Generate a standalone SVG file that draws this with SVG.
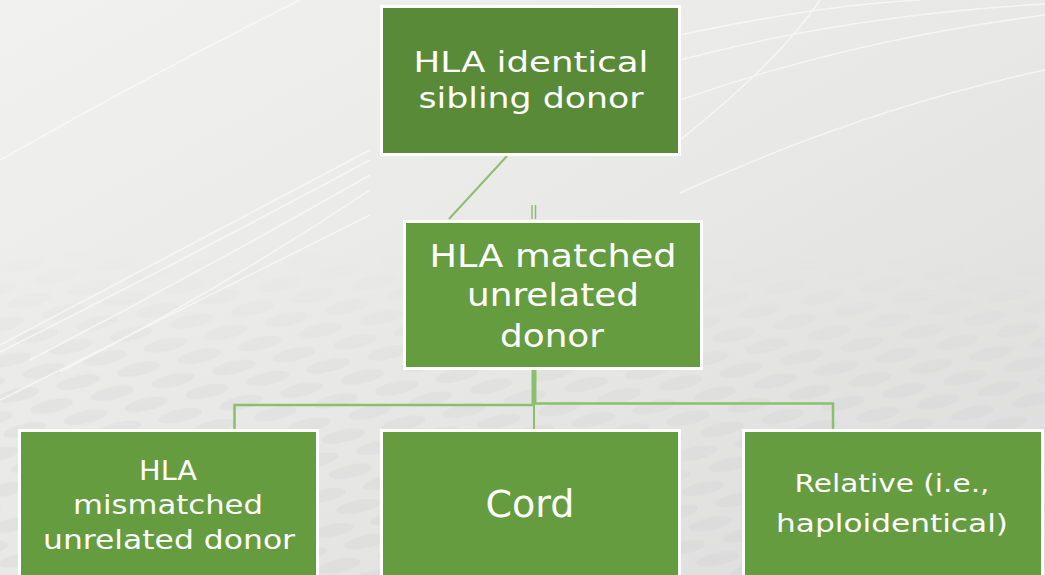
<svg xmlns="http://www.w3.org/2000/svg" width="1045" height="575" viewBox="0 0 1045 575">
  <defs>
    <linearGradient id="bg" x1="0" y1="0" x2="1" y2="1">
      <stop offset="0" stop-color="#f1f1f0"/>
      <stop offset="0.5" stop-color="#e8e8e7"/>
      <stop offset="1" stop-color="#dcdcdc"/>
    </linearGradient>
    <pattern id="dots" x="0" y="0" width="62" height="36" patternUnits="userSpaceOnUse" patternTransform="rotate(-12)">
      <ellipse cx="28" cy="12" rx="22" ry="6.5" fill="#d2d2d2"/>
      <ellipse cx="59" cy="30" rx="22" ry="6.5" fill="#d2d2d2"/>
      <ellipse cx="-3" cy="30" rx="22" ry="6.5" fill="#d2d2d2"/>
    </pattern>
    <linearGradient id="fade" x1="0" y1="0" x2="0" y2="1">
      <stop offset="0" stop-color="#fff" stop-opacity="0"/>
      <stop offset="0.4" stop-color="#fff" stop-opacity="0.45"/>
      <stop offset="1" stop-color="#fff" stop-opacity="0.55"/>
    </linearGradient>
    <mask id="dotmask">
      <rect x="0" y="250" width="1045" height="325" fill="url(#fade)"/>
    </mask>
  </defs>
  <style>
    .box { stroke: #ffffff; stroke-width: 3; }
    .top { fill: #598a38; }
    .grn { fill: #659c40; }
    .t { font-family: "DejaVu Sans", "Liberation Sans", sans-serif; fill: #ffffff; text-anchor: middle; }
    .conn { stroke: #8cbf6c; fill: none; }
    .streak { stroke: #fafafa; fill: none; stroke-width: 1.5; opacity: 0.75; }
  </style>

  <!-- background -->
  <rect x="0" y="0" width="1045" height="575" fill="url(#bg)"/>
  <rect x="0" y="250" width="1045" height="325" fill="url(#dots)" mask="url(#dotmask)" opacity="0.6"/>
  <g class="streak">
    <path d="M0,160 Q150,75 300,0"/>
    <path d="M0,345 Q180,250 370,150"/>
    <path d="M0,352 Q180,262 370,160"/>
    <path d="M30,360 Q200,272 370,175"/>
    <path d="M60,372 Q220,290 370,190"/>
    <path d="M0,400 Q200,300 370,215"/>
    <path d="M680,193 Q860,110 1045,70"/>
    <path d="M680,100 Q850,40 1045,15"/>
    <path d="M680,60 Q850,15 1045,4"/>
    <path d="M680,35 Q820,5 920,0"/>
    <path d="M680,140 Q780,60 820,0"/>
  </g>

  <!-- connectors -->
  <g id="connectors" class="conn">
    <line x1="507" y1="156" x2="449" y2="219" stroke-width="2"/>
    <line x1="532" y1="205" x2="532" y2="219" stroke-width="1.5"/>
    <line x1="535.5" y1="205" x2="535.5" y2="219" stroke-width="1.5"/>
    <line x1="534" y1="370" x2="534" y2="404" stroke-width="5"/>
    <polyline points="234.5,430 234.5,405 534,405" stroke-width="2.5"/>
    <polyline points="534,403.5 833,403.5 833,430" stroke-width="2.5"/>
    <line x1="534" y1="404" x2="534" y2="430" stroke-width="2"/>
  </g>

  <!-- nodes -->
  <g id="node-sibling">
    <rect class="box top" x="381.5" y="6.5" width="298" height="148"/>
    <text class="t" font-size="28" x="531" y="72" textLength="235" lengthAdjust="spacingAndGlyphs">HLA identical</text>
    <text class="t" font-size="28" x="531" y="108" textLength="225" lengthAdjust="spacingAndGlyphs">sibling donor</text>
  </g>
  <g id="node-matched">
    <rect class="box grn" x="404.5" y="221.5" width="297" height="147"/>
    <text class="t" font-size="32" x="553" y="267" textLength="247" lengthAdjust="spacingAndGlyphs">HLA matched</text>
    <text class="t" font-size="32" x="553" y="306" textLength="172" lengthAdjust="spacingAndGlyphs">unrelated</text>
    <text class="t" font-size="32" x="552" y="347" textLength="104" lengthAdjust="spacingAndGlyphs">donor</text>
  </g>
  <g id="node-mismatched">
    <rect class="box grn" x="19.5" y="430.5" width="298" height="150"/>
    <text class="t" font-size="27" x="168" y="480" textLength="58" lengthAdjust="spacingAndGlyphs">HLA</text>
    <text class="t" font-size="27" x="168" y="514" textLength="190" lengthAdjust="spacingAndGlyphs">mismatched</text>
    <text class="t" font-size="27" x="169" y="549" textLength="252" lengthAdjust="spacingAndGlyphs">unrelated donor</text>
  </g>
  <g id="node-cord">
    <rect class="box grn" x="381.5" y="430.5" width="298" height="150"/>
    <text class="t" font-size="37" x="530" y="517" textLength="89" lengthAdjust="spacingAndGlyphs">Cord</text>
  </g>
  <g id="node-relative">
    <rect class="box grn" x="743.5" y="430.5" width="299" height="150"/>
    <text class="t" font-size="25" x="892" y="492" textLength="195" lengthAdjust="spacingAndGlyphs">Relative (i.e.,</text>
    <text class="t" font-size="25" x="892" y="532" textLength="232" lengthAdjust="spacingAndGlyphs">haploidentical)</text>
  </g>
</svg>
